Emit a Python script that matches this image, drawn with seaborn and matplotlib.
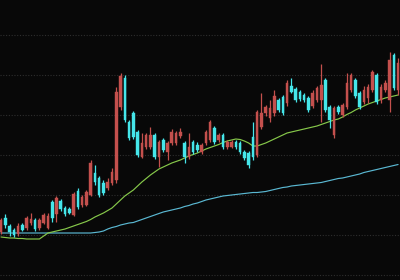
import numpy as np
import pandas as pd
import matplotlib
matplotlib.use("Agg")
import matplotlib.pyplot as plt
import seaborn as sns

# ---- data ----
opens = [6.15, 6.85, 6.45, 6.25, 6.05, 6.5, 6.35, 6.6, 6.75, 6.35,
         6.6, 6.35, 7.65, 7.05, 7.7, 7.35, 7.3, 7.0, 8.2, 7.5,
         7.5, 8.0, 9.1, 8.85, 8.6, 8.35, 8.6, 8.75, 12.4, 13.85,
         11.65, 12.1, 11.15, 9.9, 10.4, 10.4, 11.0, 9.9, 10.75, 10.15,
         10.6, 10.6, 10.95, 10.6, 9.9, 10.65, 10.5, 10.15, 10.6, 10.75,
         11.35, 10.75, 11.0, 10.4, 10.4, 10.65, 10.6, 10.15, 10.1, 10.9,
         10.0, 11.4, 12.1, 11.85, 12.1, 12.75, 12.9, 12.6, 13.45, 13.3,
         13.15, 13.0, 12.85, 12.45, 12.75, 12.75, 13.75, 12.4, 11.0, 12.4,
         12.0, 12.4, 13.25, 13.75, 13.1, 12.65, 12.85, 13.25, 14.0, 12.75,
         13.25, 12.75, 15.0, 13.25]
highs = [6.85, 7.05, 6.55, 6.35, 6.6, 6.6, 6.95, 7.1, 6.85, 6.85,
         7.1, 7.1, 7.75, 7.95, 7.8, 7.45, 7.4, 8.15, 8.35, 8.0,
         8.25, 9.75, 9.5, 8.95, 8.75, 8.85, 9.35, 13.4, 14.1, 14.0,
         11.75, 12.2, 11.25, 11.1, 11.1, 11.4, 11.1, 10.75, 10.85, 10.7,
         11.3, 11.2, 11.35, 10.7, 11.1, 10.75, 10.65, 10.6, 11.25, 11.75,
         11.45, 11.1, 11.1, 10.75, 10.75, 10.75, 10.7, 10.25, 10.2, 11.65,
         12.25, 13.1, 12.5, 12.75, 13.25, 12.85, 13.0, 13.75, 13.85, 13.4,
         13.25, 13.1, 12.95, 13.25, 13.45, 14.55, 13.85, 12.5, 12.45, 12.5,
         12.6, 14.1, 14.1, 13.85, 13.2, 13.45, 13.55, 14.25, 14.1, 13.55,
         13.75, 15.15, 15.1, 14.85]
lows = [6.05, 6.35, 5.95, 5.9, 5.95, 6.2, 6.25, 6.5, 6.2, 6.25,
        6.55, 6.3, 6.65, 6.65, 7.2, 6.95, 7.05, 6.95, 7.3, 7.4,
        7.45, 7.95, 8.5, 7.9, 8.0, 8.25, 8.5, 8.6, 12.25, 11.65,
        10.75, 10.8, 9.9, 9.85, 10.3, 10.3, 9.8, 9.4, 10.15, 9.75,
        10.5, 10.5, 10.85, 9.6, 9.8, 10.05, 10.15, 10.05, 10.5, 10.65,
        10.55, 10.65, 10.3, 10.3, 10.35, 10.3, 10.05, 9.75, 9.35, 9.75,
        9.9, 11.3, 11.95, 11.65, 11.95, 12.15, 12.0, 12.45, 13.1, 12.65,
        12.7, 12.65, 12.15, 12.35, 12.65, 11.65, 12.15, 11.35, 10.85, 12.05,
        11.9, 12.3, 13.15, 12.85, 12.3, 12.55, 12.6, 13.15, 12.55, 12.6,
        13.15, 12.15, 13.25, 13.0]
closes = [6.75, 6.5, 6.15, 6.0, 6.45, 6.25, 6.85, 6.8, 6.3, 6.75,
          7.0, 6.95, 6.85, 7.85, 7.3, 7.05, 7.1, 8.05, 7.4, 7.9,
          8.15, 9.6, 8.65, 8.0, 8.1, 8.65, 9.15, 13.15, 13.95, 11.75,
          10.85, 10.9, 10.0, 10.6, 11.0, 11.0, 9.9, 10.65, 10.25, 10.6,
          11.15, 11.1, 11.15, 9.9, 10.4, 10.15, 10.25, 10.5, 11.15, 11.65,
          10.65, 11.0, 10.4, 10.65, 10.65, 10.4, 10.15, 9.85, 9.5, 9.9,
          12.15, 12.1, 12.4, 12.35, 12.95, 12.25, 12.1, 13.6, 13.15, 12.75,
          12.8, 12.75, 12.25, 13.1, 13.35, 13.5, 12.25, 11.75, 12.35, 12.15,
          12.5, 13.6, 14.0, 12.95, 12.4, 13.25, 13.4, 14.15, 12.65, 13.4,
          13.6, 14.75, 13.35, 14.6]
ma_short = [5.9, 5.875, 5.85, 5.85, 5.825, 5.825, 5.8, 5.8, 5.8, 5.8,
            5.95, 6.1, 6.15, 6.2, 6.25, 6.3, 6.375, 6.45, 6.525, 6.6,
            6.675, 6.775, 6.9, 7.0, 7.1, 7.225, 7.35, 7.55, 7.75, 7.95,
            8.1, 8.25, 8.45, 8.65, 8.825, 9.0, 9.15, 9.3, 9.4, 9.5,
            9.6, 9.675, 9.75, 9.85, 9.95, 10.025, 10.1, 10.2, 10.3, 10.375,
            10.45, 10.525, 10.625, 10.7, 10.75, 10.8, 10.775, 10.7, 10.6, 10.45,
            10.45, 10.525, 10.6, 10.7, 10.8, 10.9, 11.0, 11.1, 11.15, 11.2,
            11.25, 11.3, 11.35, 11.4, 11.45, 11.525, 11.6, 11.675, 11.75, 11.8,
            11.9, 12.025, 12.125, 12.25, 12.35, 12.45, 12.55, 12.625, 12.7, 12.775,
            12.85, 12.9, 12.95, 13.0]
ma_long = [6.1] * 22 + [
            6.125, 6.15, 6.2, 6.3, 6.375, 6.425, 6.5, 6.55,
            6.6, 6.625, 6.7, 6.775, 6.85, 6.925, 7.0, 7.075, 7.15, 7.2,
            7.25, 7.3, 7.35, 7.425, 7.475, 7.55, 7.6, 7.675, 7.75, 7.8,
            7.85, 7.9, 7.95, 7.975, 8.0, 8.025, 8.05, 8.075, 8.1, 8.125,
            8.125, 8.15, 8.175, 8.225, 8.275, 8.325, 8.375, 8.4, 8.45, 8.475,
            8.5, 8.525, 8.55, 8.575, 8.6, 8.625, 8.675, 8.725, 8.775, 8.825,
            8.85, 8.9, 8.95, 9.0, 9.05, 9.125, 9.175, 9.225, 9.275, 9.325,
            9.375, 9.425, 9.475, 9.525]
grid_levels = [4, 6, 8, 10, 12, 14, 16]

# ---- styling ----
BG = "#080808"
UP = "#c4504d"
DOWN = "#45e6ea"
GREEN = "#86c84a"
MA_CYAN = "#5ab8d2"

sns.set_style("dark", {"axes.facecolor": BG, "figure.facecolor": BG})

n = len(opens)
df = pd.DataFrame({"idx": np.arange(n), "open": opens, "high": highs,
                   "low": lows, "close": closes,
                   "ma_short": ma_short, "ma_long": ma_long})
df["up"] = df["close"] >= df["open"]

fig = plt.figure(figsize=(4, 2.8), dpi=100)
ax = fig.add_axes([0, 0, 1, 1])
ax.set_facecolor(BG)

# dotted horizontal grid
for g in grid_levels:
    ax.axhline(g, color="#2e2e2e", lw=0.8, ls=(0, (1, 1.5)), zorder=0)

# moving averages
sns.lineplot(data=df, x="idx", y="ma_long", ax=ax, color=MA_CYAN, lw=0.85, zorder=2)
sns.lineplot(data=df, x="idx", y="ma_short", ax=ax, color=GREEN, lw=0.85, zorder=2)

# candles
colors = np.where(df["up"], UP, DOWN)
ax.vlines(df["idx"], df["low"], df["high"], colors=colors, lw=0.9, zorder=3)
bottoms = np.minimum(df["open"], df["close"])
heights = np.maximum(np.abs(df["close"] - df["open"]), 0.04)
ax.bar(df["idx"], heights, bottom=bottoms, width=0.6, color=colors,
       edgecolor=colors, linewidth=0.3, zorder=4)

ax.set_xlim(-0.23, 93.45)
ax.set_ylim(3.75, 17.75)
ax.set_xticks([])
ax.set_yticks([])
ax.set_xlabel("")
ax.set_ylabel("")
for s in ax.spines.values():
    s.set_visible(False)
ax.grid(False)

fig.savefig("out.png", dpi=100, facecolor=BG)
